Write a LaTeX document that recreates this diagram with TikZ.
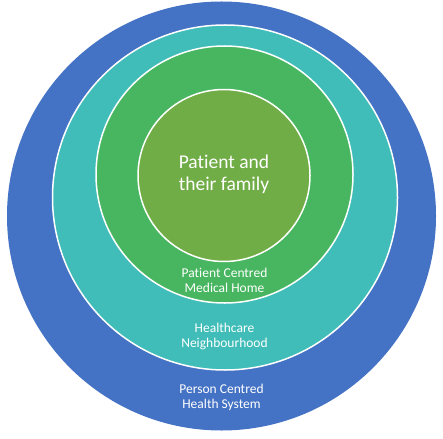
\documentclass[tikz,border=0pt]{standalone}
\usepackage{fontspec}
\setmainfont[Ligatures=NoCommon]{Carlito}
\definecolor{sysblue}{HTML}{4472C4}
\definecolor{hoodteal}{HTML}{40BDB8}
\definecolor{homegreen}{HTML}{48B660}
\definecolor{famgreen}{HTML}{71AD47}
\tikzset{
  ring/.style={circle,inner sep=0pt,draw=white,line width=1.5pt},
  lbl/.style={text=white,align=center,font=\fontsize{13.5}{15}\selectfont},
}
\begin{document}
\begin{tikzpicture}[x=1pt,y=-1pt]
\useasboundingbox (0,0) rectangle (443,438);
% circles
\node[ring,draw=none,fill=sysblue,minimum size=429pt](sys)at(221.5,216){};
\node[ring,fill=hoodteal,minimum size=345pt](hood)at(225,197.5){};
\node[ring,fill=homegreen,minimum size=257pt](home)at(224.5,174.5){};
\node[ring,fill=famgreen,minimum size=172pt](fam)at(224,175.5){};
% labels
\node[lbl,font=\fontsize{19.5}{22}\selectfont](famtxt)at(224,174){Patient and\\their family};
\node[lbl](hometxt)at(224.5,280){Patient Centred\\Medical Home};
\node[lbl](hoodtxt)at(224.5,336){Healthcare\\Neighbourhood};
\node[lbl](systxt)at(221.5,397){Person Centred\\Health System};
\end{tikzpicture}
\end{document}
